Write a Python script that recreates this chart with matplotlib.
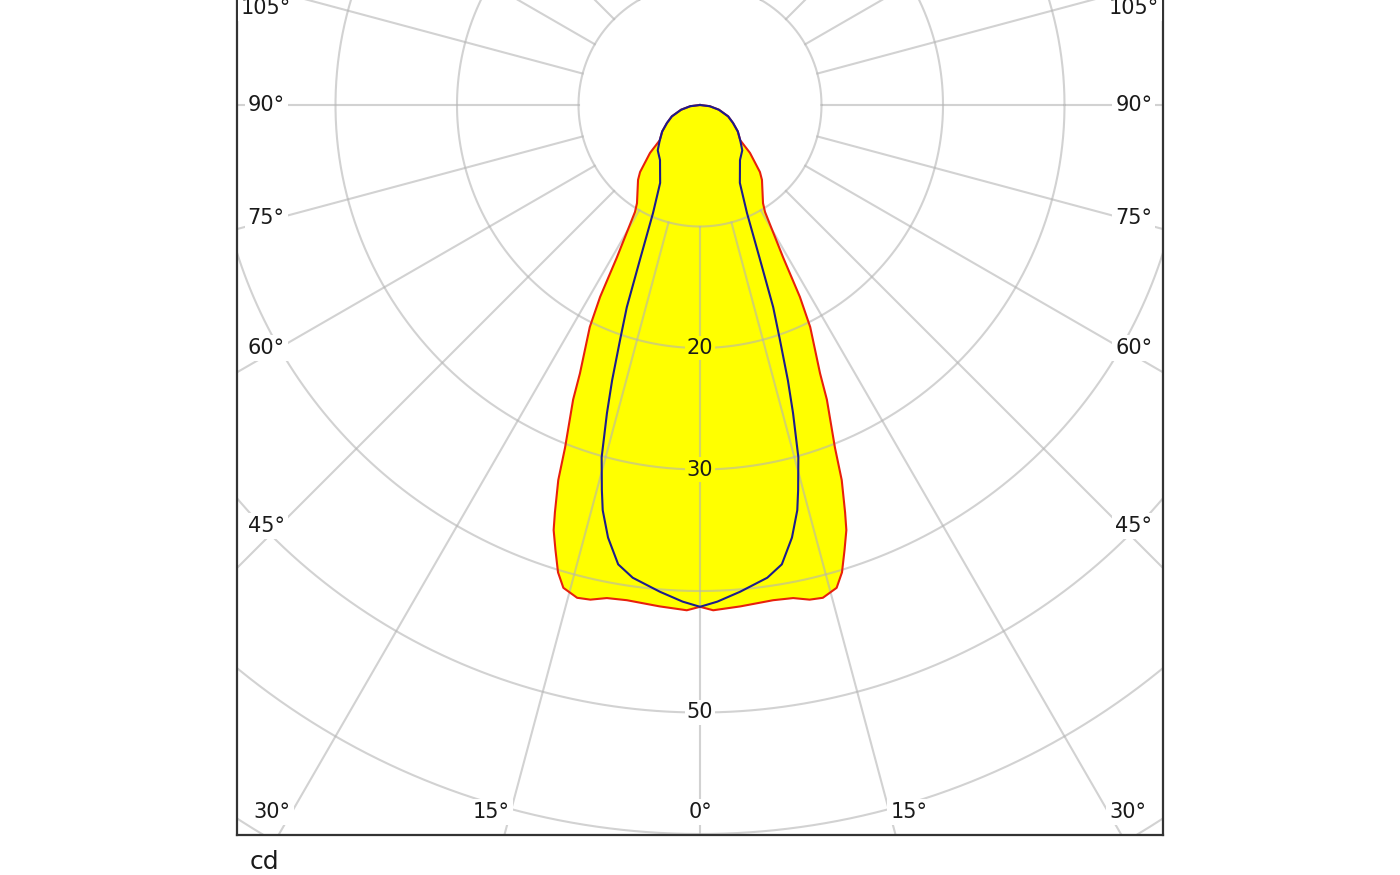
import matplotlib
matplotlib.use('Agg')
import matplotlib.pyplot as plt
import numpy as np

# Крива сили світла, площина C0-C180 (червона, залита жовтим)
red_gamma = [0, 1.5, 4.6, 8.4, 10.7, 12.5, 14.0, 15.8, 16.9, 18.0, 19.0, 19.6, 20.7,
             21.5, 23.3, 24.1, 26.4, 27.5, 28.6, 31.3, 32.7, 39.6, 41.8, 46.2, 48.8,
             55, 61.4, 68, 76, 83, 90]
red_cd = [41.3, 41.6, 41.4, 41.2, 41.3, 41.7, 41.8, 41.3, 40.2, 38.5, 37.0, 35.6, 33.0,
          30.3, 26.4, 24.2, 20.4, 17.8, 14.3, 10.3, 9.6, 8.0, 7.4, 5.7, 4.4,
          3.8, 3.1, 2.5, 1.6, 0.8, 0.0]

# Площина C90-C270 (синя)
blue_gamma = [0, 2.0, 3.1, 4.7, 8.1, 10.1, 12.0, 13.5, 14.3, 15.6, 16.8, 17.7, 18.8,
              19.9, 21.2, 23.5, 27.1, 36.0, 43.0, 48.8, 55, 61.4, 68, 76, 83, 90]
blue_cd = [41.3, 40.9, 40.6, 40.2, 39.3, 38.4, 36.4, 34.3, 32.7, 30.1, 26.5, 23.8, 20.4,
           17.7, 13.7, 9.7, 7.2, 5.6, 5.1, 4.4, 3.8, 3.1, 2.5, 1.6, 0.8, 0.0]

# Сітка
ring_values = [10, 20, 30, 40, 50, 60, 70]
ring_labels = [20, 30, 50]
spoke_angles = np.arange(0, 360, 15)
side_labels = [45, 60, 75, 90, 105]
bottom_labels = [0, 15, 30]

grid_color = '#b4b4b4'
text_color = '#1a1a1a'
label_size = 15


def to_xy(gamma, cd):
    # gamma рахується від вертикалі вниз, крива симетрична
    g = np.radians(np.asarray(gamma, dtype=float))
    r = np.asarray(cd, dtype=float)
    x_right = r * np.sin(g)
    y_right = -r * np.cos(g)
    x = np.concatenate([-x_right[::-1], x_right[1:]])
    y = np.concatenate([y_right[::-1], y_right[1:]])
    return x, y


fig = plt.figure(figsize=(14, 8.75), dpi=100)
ax = fig.add_axes([237 / 1400, 40 / 875, 926 / 1400, 835 / 875])

scale = 12.15  # пікселів на 1 кд
ax.set_xlim(-463 / scale, 463 / scale)
ax.set_ylim(-730 / scale, 105 / scale)
ax.set_xticks([])
ax.set_yticks([])
for side in ['left', 'bottom', 'right']:
    ax.spines[side].set_color('#333333')
    ax.spines[side].set_linewidth(1.6)
ax.spines['top'].set_visible(False)

# Криві
rx, ry = to_xy(red_gamma, red_cd)
bx, by = to_xy(blue_gamma, blue_cd)
ax.fill(rx, ry, color='#ffff00', zorder=1, linewidth=0)
ax.plot(rx, ry, color='#e8200c', linewidth=1.5, zorder=3)
ax.plot(bx, by, color='#1c1c8c', linewidth=1.5, zorder=3)

# Кола та промені сітки
t = np.linspace(0, 2 * np.pi, 720)
for r in ring_values:
    ax.plot(r * np.cos(t), r * np.sin(t), color=grid_color, linewidth=1.5,
            alpha=0.6, zorder=2)
for a in spoke_angles:
    g = np.radians(a)
    ax.plot([10 * np.sin(g), 90 * np.sin(g)], [-10 * np.cos(g), -90 * np.cos(g)],
            color=grid_color, linewidth=1.5, alpha=0.6, zorder=2)

# Підписи кіл
for r in ring_labels:
    face = '#ffff00' if r < 40 else 'white'
    ax.text(0, -r, str(r), ha='center', va='center', fontsize=label_size, color=text_color,
            zorder=4, bbox=dict(boxstyle='square,pad=0.1', facecolor=face, edgecolor='none'))

# Підписи кутів
xl = 35.7
ytop = 97 / scale
for a in side_labels:
    y = -xl / np.tan(np.radians(a)) * 0.97 if a != 90 else 0.0
    y = min(y, ytop)
    for sx in (-1, 1):
        ax.text(sx * xl, y, f'{a}°', ha='center', va='center', fontsize=label_size,
                color=text_color, zorder=4,
                bbox=dict(boxstyle='square,pad=0.15', facecolor='white', edgecolor='none'))

yb = -58.2
for a in bottom_labels:
    x = -yb * np.tan(np.radians(a)) + (1.6 if a else 0)
    for sx in ((1,) if a == 0 else (-1, 1)):
        ax.text(sx * x, yb, f'{a}°', ha='center', va='center', fontsize=label_size,
                color=text_color, zorder=4,
                bbox=dict(boxstyle='square,pad=0.15', facecolor='white', edgecolor='none'))

fig.text(250 / 1400, (875 - 862) / 875, 'cd', ha='left', va='center', fontsize=18,
         color=text_color)

fig.savefig('out.png', dpi=100)
